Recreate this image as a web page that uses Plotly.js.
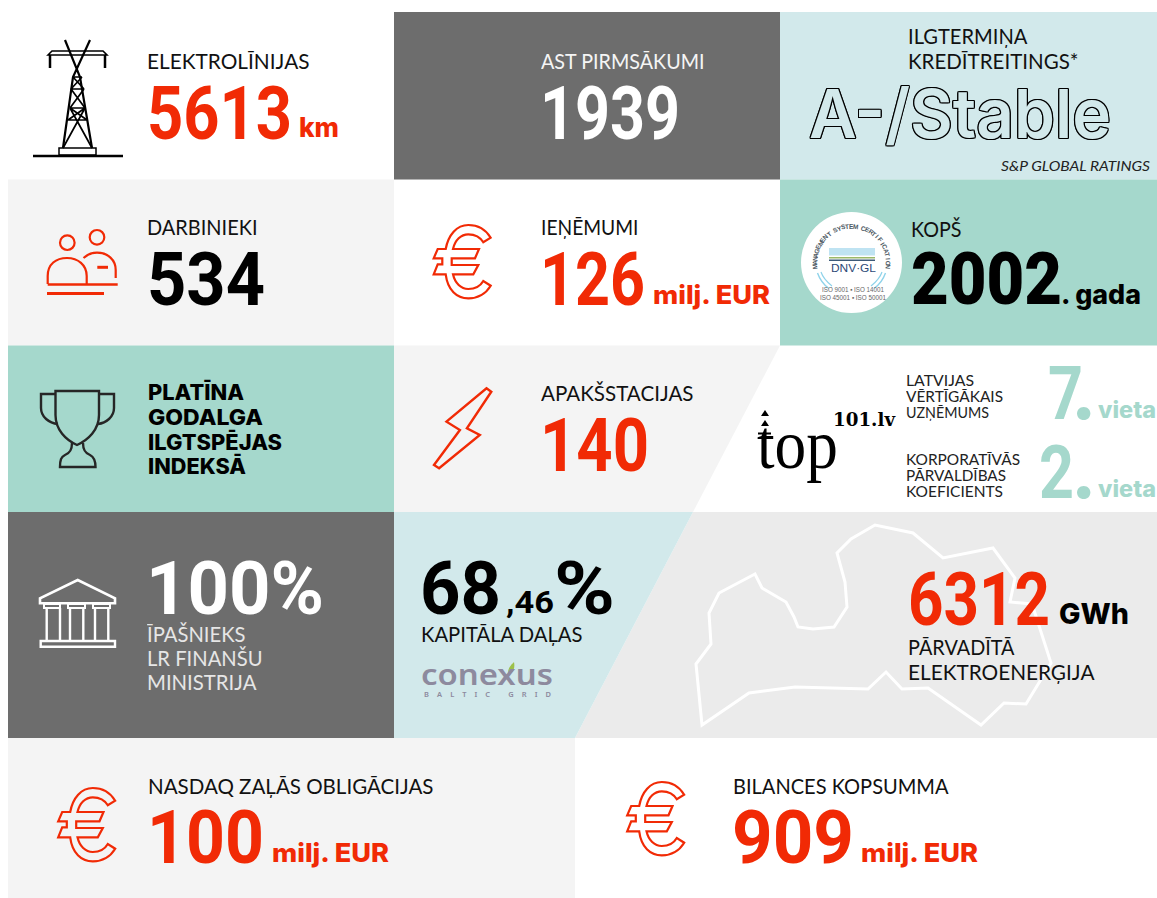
<!DOCTYPE html>
<html><head><meta charset="utf-8">
<script src="https://cdn.plot.ly/plotly-3.0.1.min.js"></script>
<style>html,body{margin:0;padding:0;background:#fff}#c{width:1157px;height:898px}</style>
</head><body><div id="c"></div>
<script>
// ---- content ----
const captions = ["ELEKTROLĪNIJAS","AST PIRMSĀKUMI","ILGTERMIŅA","KREDĪTREITINGS*","DARBINIEKI","IEŅĒMUMI","KOPŠ","APAKŠSTACIJAS","KAPITĀLA DAĻAS","PĀRVADĪTĀ","ELEKTROENERĢIJA","NASDAQ ZAĻĀS OBLIGĀCIJAS","BILANCES KOPSUMMA"];
const values = ["5613","1939","534","126","140","100","909","6312"];
const units = ["km","milj. EUR","GWh"];
const awardLines = ["PLATĪNA","GODALGA","ILGTSPĒJAS","INDEKSĀ"];
const ownerLines = ["ĪPAŠNIEKS","LR FINANŠU","MINISTRIJA"];
const rankLabels1 = ["LATVIJAS","VĒRTĪGĀKAIS","UZŅĒMUMS"];
const rankLabels2 = ["KORPORATĪVĀS","PĀRVALDĪBAS","KOEFICIENTS"];
const ranks = ["7","2"];
const rating = "A-/Stable";
const ratingSource = "S&P GLOBAL RATINGS";
const ownerShare = "100%";
const shareWhole = "68", shareDecimal = ",46", sharePct = "%";
const sinceYear = "2002", sinceSuffix = ". gada", rankWord = "vieta";
const dnvRing = "MANAGEMENT SYSTEM CERTIFICATION";
const dnvIso = ["ISO 9001 ▪ ISO 14001","ISO 45001 ▪ ISO 50001"];

// ---- styles ----
const RED="#f12a05", TEAL="#a5d8cc", PALE="#d2e9eb", DARK="#6d6d6d", LIGHT="#f4f4f4", MID="#ebebeb", INK="#111111";
const F_LABEL="Lato", F_BIG="Roboto", F_HEAVY="Inter";
const MIDS={"Lato":0.387,"Roboto":0.34,"Inter":0.36,"Noto Sans":0.388,"DejaVu Serif":0.35,"Liberation Sans":0.347,"Liberation Serif":0.335};
const ann=[], shp=[], fit={};
function T(text,x,base,size,color,o){o=o||{};
  const fam=o.family||F_LABEL;
  const a={text:text,x:x,y:base-MIDS[fam]*size,xref:'x',yref:'y',showarrow:false,
    xanchor:o.anchor||'left',yanchor:'middle',borderpad:0,textangle:o.angle||0,
    font:{family:fam,size:size,color:color,weight:o.weight||400,style:o.style||'normal',shadow:o.shadow||'none'}};
  if(o.w){fit[ann.length]={w:o.w,spacing:!!o.spacing}; a.width=o.w+3; a.align='left';}
  if(o.h){a.height=o.h;}
  ann.push(a);
}
const BIGS=75;
const big=(t,x,b,c,w)=>T(t,x-2,b,BIGS,c,{family:F_BIG,weight:700,w:w+3,h:BIGS*0.8});
const unit=(t,x,b,s,c,w)=>T(t,x,b,s,c,{family:F_HEAVY,weight:800,w:w});
const lab=(t,x,b,w,c)=>T(t,x-1,b,21,c||INK,{w:w+0.5});
function rect(x0,y0,x1,y1,fill){shp.push({type:'rect',xref:'x',yref:'y',x0,y0,x1,y1,fillcolor:fill,line:{width:0},layer:'below'});}
function path(d,color,w,fill){shp.push({type:'path',xref:'x',yref:'y',path:d,line:{color:color,width:w},fillcolor:fill||'rgba(0,0,0,0)',layer:'below'});}
function circ(cx,cy,r,color,w,fill){shp.push({type:'circle',xref:'x',yref:'y',x0:cx-r,x1:cx+r,y0:cy-r,y1:cy+r,line:{color:color,width:w},fillcolor:fill||'rgba(0,0,0,0)',layer:'below'});}

// ---- panels ----
rect(394,12,780,179.5,DARK); rect(780,12,1157,179.5,PALE);
rect(8,179.5,394,345.5,LIGHT); rect(780,179.5,1157,345.5,TEAL);
rect(8,345.5,394,512,TEAL);
path("M394 345.5 H780 L693 512 H394 Z",LIGHT,0,LIGHT);
rect(8,512,394,738,DARK);
path("M693 512 H1157 V738 H575 Z",MID,0,MID);
path("M394 512 H693 L575 738 H394 Z",PALE,0,PALE);
rect(8,738,575,898,LIGHT);

// ---- map outline ----
const mapX=[702,696,711,709,719,755,762,786,794,798,813,834,847,845,837,851,875,913,943,993,1015,1010,1032,1051,1026,1004,981,928,902,886,868,795,749];
const mapY=[725,664,644,613,593,574,588,602,617,627,629,627,607,582,553,539,525,533,558,548,578,602,604,663,704,703,725,688,689,672,689,687,693];
path("M"+mapX.map((x,i)=>x+" "+mapY[i]).join(" L")+" Z","#ffffff",3);

// ---- tower icon ----
path("M33 156 H123","#000",2.5);
path("M59 148 H96 V155 H59 Z","#000",1.5);
path("M65 40 L80 77 L92 148 M90 40 L73 77 L63 148","#000",2.2);
path("M70 108 L92 148 M85 108 L63 148 M73 77 H82 M71 89 H84 M70 108 H85 M68 120 H87 M73 77 L84 89 M82 77 L71 89 M71 89 L85 108 M84 89 L70 108 M70 108 L87 120 M85 108 L68 120","#000",1.7);
path("M48 55 L52 51 H103 L107 55 Z","#000",1.6);
path("M50 55 V68 M105 55 V68","#000",2.5);

// ---- people icon ----
circ(67.3,242.7,7.3,RED,2.2); circ(97,237.3,7.3,RED,2.2);
path("M47.7 284 V276 C47.7 264 56 258 67 258 C78 258 86.7 265 86.7 276 V284",RED,2.2);
path("M83.5 258 C88 254 92 252.7 97 252.7 C108 252.7 115.7 260 115.7 270 V278",RED,2.2);
path("M47.7 284.5 H117.7",RED,2.4); path("M47 293.5 H104",RED,3); path("M97.3 267.3 H108",RED,3);

// ---- euro icons ----
function euro(ox,oy){
  const p=(x,y)=>(ox+x/3).toFixed(1)+" "+(oy+y/3).toFixed(1);
  path(`M${p(197,68)} C${p(180,40)} ${p(155,30)} ${p(130,30)} C${p(95,30)} ${p(70,60)} ${p(62,102)} L${p(38,102)} L${p(26,130)} L${p(52,130)} L${p(52,148)} L${p(38,148)} L${p(26,178)} L${p(62,178)} C${p(68,225)} ${p(95,250)} ${p(130,250)} C${p(155,250)} ${p(180,240)} ${p(197,212)} L${p(175,198)} C${p(165,215)} ${p(150,222)} ${p(130,222)} C${p(108,222)} ${p(90,205)} ${p(84,178)} L${p(145,178)} L${p(160,150)} L${p(80,150)} L${p(80,130)} L${p(150,130)} L${p(162,102)} L${p(84,102)} C${p(90,75)} ${p(108,58)} ${p(130,58)} C${p(150,58)} ${p(165,65)} ${p(175,82)} Z`,RED,2.2);
}
euro(425,215); euro(49.5,778); euro(618.5,772);

// ---- trophy ----
const TR="#262626";
path("M55.5 391 H99 V415 C99 430 88 440 77 445 C66 440 55.5 430 55.5 415 Z",TR,2.4);
path("M55.5 394 H41 V408 C41 417 49 423 58 424",TR,2.4);
path("M99 394 H114 V408 C114 417 106 423 98 424",TR,2.4);
path("M72 443 C72 450 70 453 65 455 C61 457 60 460 60 467 H95.5 C95.5 460 94 457 90 455 C85 453 83 450 83 443",TR,2.4);

// ---- lightning ----
path("M486.5 388.3 L491.3 391.7 L466.9 428.3 L479.8 435 L439.1 468.3 L434 465 L459.9 430 L446.5 421.7 Z",RED,2.4);

// ---- building ----
path("M77.7 580 L115 598.3 V603.3 H40 V598.3 Z","#fff",2.6);
path("M44 604 H60 V608 H44 Z M68 604 H85 V608 H68 Z M93 604 H110 V608 H93 Z","#fff",2);
path("M46.7 608 V641 M60 608 V641 M70 608 V641 M83.3 608 V641 M95 608 V641 M108.3 608 V641","#fff",2.4);
path("M40.7 641 H115 V646.7 H40.7 Z","#fff",2.4);

// ---- DNV GL logo ----
const cx=851.5, cy=262.5;
circ(cx,cy,50.5,"#fff",0,"#fff");
rect(829,248,875,255.5,"#bfe3f2");
rect(829,257,875,258.5,"#9bb96a");
rect(829,259.5,875,261,"#3d5a78");
T("DNV·GL",830,272,10.5,"#2d4a78",{family:'Liberation Sans',w:45});
T(dnvIso[0],821,292,7,"#666",{family:'Liberation Sans',w:62});
T(dnvIso[1],819,300,6.8,"#666",{family:'Liberation Sans',w:66});
path("M817.5 273 C820 280 824 285 829 288.5","#8fd3ea",1.4);
path("M821 272 C823 278 827 282 832 286","#8fd3ea",1.2);
path("M885.5 273 C883 280 879 285 874 288.5","#8fd3ea",1.4);
path("M882 272 C880 278 876 282 871 286","#8fd3ea",1.2);
Array.from(dnvRing).forEach((ch,i,arr)=>{
  const a=(-97+i*194/(arr.length-1))*Math.PI/180, R=36.5;
  ann.push({text:ch,x:cx+R*Math.sin(a),y:cy-R*Math.cos(a),xref:'x',yref:'y',showarrow:false,textangle:a*180/Math.PI,
    xanchor:'center',yanchor:'middle',borderpad:0,font:{family:'Liberation Sans',size:6.5,weight:700,color:'#4d5963'}});
});

// ---- top101 logo ----
path("M761 416 L765 410 L769 416 Z","#000",0,"#000");
path("M761 426 L765 420 L769 426 Z","#000",0,"#000");
path("M758 433.5 H771","#000",2);
T("top",756,468,70,"#000",{family:'Liberation Serif',w:81});
T("101.lv",832,426,18,"#000",{family:'DejaVu Serif',weight:700,w:62});

// ---- conexus logo ----
T("conexus",420,685,29,"#8d8a9e",{family:'Noto Sans',weight:600,w:132});
path("M508 673 C508 668 511 665 514 662 C515 667 514 671 510 674 Z","#9cc04a",0,"#9cc04a");
T("BALTIC GRID",423,697,7.5,"#8d8a9e",{family:'Noto Sans',weight:600,w:127,spacing:true});

// ---- text ----
lab(captions[0],147,69,162); big(values[0],148,138,RED,142); unit(units[0],298,137,27,RED,40);
lab(captions[1],541,69,163,"#f5f5f5"); big(values[1],541,138,"#fff",137);
lab(captions[2],908,44,119); lab(captions[3],908,69,170);
T(rating,808,137,68,PALE,{family:'Inter',weight:600,w:302,shadow:"1.2px 0 #000,-1.2px 0 #000,0 1.2px #000,0 -1.2px #000,1px 1px #000,-1px -1px #000,1px -1px #000,-1px 1px #000"});
T(ratingSource,1000,171,14,"#222",{style:'italic',w:149});
lab(captions[4],147,235,110); big(values[2],148,304,"#000",115);
lab(captions[5],541,235,97); big(values[3],541,304,RED,102); unit(units[1],652,304,26,RED,117);
lab(captions[6],911,237,50); T(sinceYear,910,304,73,"#000",{family:"Roboto",weight:900,w:151,h:58}); T(sinceSuffix,1060,304,27,"#000",{family:F_HEAVY,weight:800,w:80});
const awardW=[96,115,134,98];
awardLines.forEach((t,i)=>T(t,147,400+i*24.7,21.5,"#000",{family:F_HEAVY,weight:800,w:awardW[i]}));
lab(captions[7],541,401,152); big(values[4],541,470,RED,106);
const r1W=[68,97,83], r2W=[114,100,97];
rankLabels1.forEach((t,i)=>T(t,905,386+i*16,15,"#222",{w:r1W[i]}));
rankLabels2.forEach((t,i)=>T(t,905,465+i*16,15,"#222",{w:r2W[i]}));
// rank digits with their oversized full stop
big(ranks[0],1049,418,TEAL,32); T(".",1083,418,72,TEAL,{family:F_HEAVY,weight:800,anchor:'center',h:60}); unit(rankWord,1097,418,23,TEAL,58);
big(ranks[1],1040,497,TEAL,32); T(".",1083,497,72,TEAL,{family:F_HEAVY,weight:800,anchor:'center',h:60}); unit(rankWord,1097,497,23,TEAL,58);
big(ownerShare,147,613,"#fff",175);
const ownerW=[98,115,109];
ownerLines.forEach((t,i)=>lab(t,147,642+i*24,ownerW[i],"#e6e6e6"));
big(shareWhole,421,613,"#000",78); T(shareDecimal,505,613,32,"#000",{family:F_BIG,weight:700,w:48}); big(sharePct,555,613,"#000",58);
lab(captions[8],421,642,161);
big(values[7],909,624,RED,139); unit(units[2],1058,624,29,"#000",70);
lab(captions[9],908,655,106); lab(captions[10],908,680,186);
lab(captions[11],148,794,285); big(values[5],148,862,RED,114); unit(units[1],271,862,26,RED,117);
lab(captions[12],733,794,215); big(values[6],733,862,RED,119); unit(units[1],860,862,26,RED,117);

const hidden={range:[0,1157],visible:false,fixedrange:true};
Plotly.newPlot('c',[],{
  width:1157,height:898,margin:{l:0,r:0,t:0,b:0},paper_bgcolor:'#fff',plot_bgcolor:'#fff',showlegend:false,
  xaxis:hidden,yaxis:Object.assign({},hidden,{range:[898,0]}),shapes:shp,annotations:ann
},{displayModeBar:false,staticPlot:true}).then(()=>{
  // Fit the real text elements to the widths measured on the reference.
  document.querySelectorAll('.annotation').forEach(g=>{
    const f=fit[g.getAttribute('data-index')]; if(!f) return;
    const t=g.querySelector('text.annotation-text'); if(!t) return;
    const b=t.getBBox();
    t.setAttribute('text-anchor','start'); t.setAttribute('x',b.x);
    t.setAttribute('textLength',f.w); t.setAttribute('lengthAdjust',f.spacing?'spacing':'spacingAndGlyphs');
  });
});
</script></body></html>
